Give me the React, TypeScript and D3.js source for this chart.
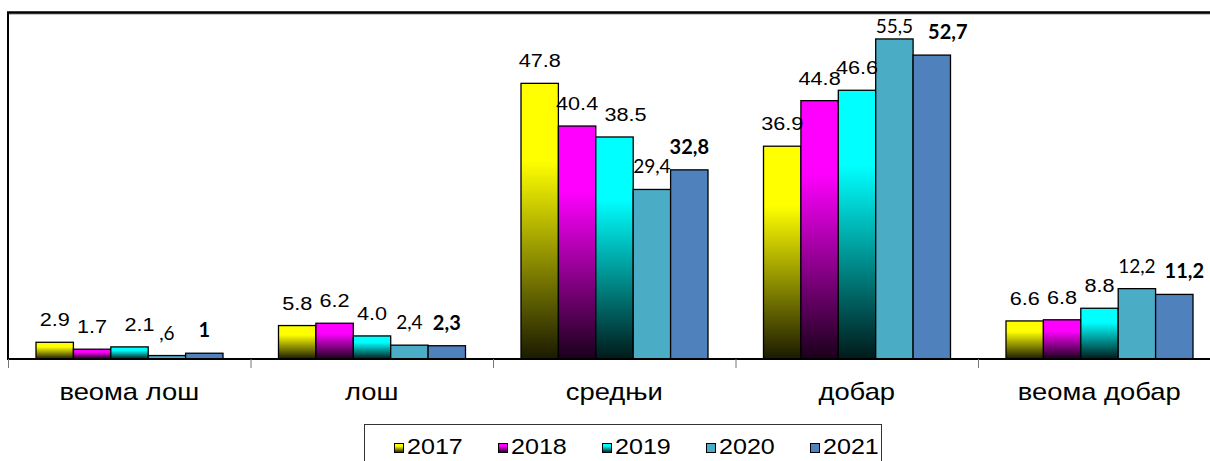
import React from "react";
import * as d3 from "d3";

const categories = ["веома лош", "лош", "средњи", "добар", "веома добар"];
const years = ["2017", "2018", "2019", "2020", "2021"];

const v2017 = [2.9, 5.8, 47.8, 36.9, 6.6];
const v2018 = [1.7, 6.2, 40.4, 44.8, 6.8];
const v2019 = [2.1, 4.0, 38.5, 46.6, 8.8];
const v2020 = [0.6, 2.4, 29.4, 55.5, 12.2];
const v2021 = [1, 2.3, 32.8, 52.7, 11.2];

// labels as printed in the original (mixed decimal separators)
const l2017 = ["2.9", "5.8", "47.8", "36.9", "6.6"];
const l2018 = ["1.7", "6.2", "40.4", "44.8", "6.8"];
const l2019 = ["2.1", "4.0", "38.5", "46.6", "8.8"];
const l2020 = [",6", "2,4", "29,4", "55,5", "12,2"];
const l2021 = ["1", "2,3", "32,8", "52,7", "11,2"];

const series = [
  { year: years[0], values: v2017, labels: l2017, top: "#ffff00", bottom: "#1a1a00", flat: false, font: "arial", bold: false },
  { year: years[1], values: v2018, labels: l2018, top: "#ff00ff", bottom: "#1a001a", flat: false, font: "arial", bold: false },
  { year: years[2], values: v2019, labels: l2019, top: "#00ffff", bottom: "#001a1a", flat: false, font: "arial", bold: false },
  { year: years[3], values: v2020, labels: l2020, top: "#4bacc6", bottom: "#4bacc6", flat: true, font: "calibri", bold: false },
  { year: years[4], values: v2021, labels: l2021, top: "#4f81bd", bottom: "#4f81bd", flat: true, font: "calibri", bold: true },
];

// a few labels were dragged sideways in the original, key = "series-category"
const labelNudge: Record<string, number> = { "2-0": 10, "2-2": 11, "4-3": 16, "4-4": 10 };

const W = 1210;
const H = 461;
const plot = { left: 8, right: 1220.5, top: 13, bottom: 359 };
const SX = 1.14; // original text is slightly stretched horizontally

export default function App() {
  const x0 = d3
    .scaleBand<string>()
    .domain(categories)
    .range([plot.left, plot.right]);

  const x1 = d3
    .scaleBand<string>()
    .domain(years)
    .range([28, x0.bandwidth() - 27.5]);

  const y = d3.scaleLinear().domain([0, 60]).range([plot.bottom, plot.top]);

  const legendX = 364;
  const legendY = 424;
  const legendStep = 104;

  return (
    <svg
      width={W}
      height={H}
      style={{ position: "absolute", left: 0, top: 0, background: "#fff" }}
    >
      <defs>
        {series.map((s, i) => (
          <linearGradient key={i} id={`g${i}`} x1="0" y1="0" x2="0" y2="1">
            <stop offset="0" stopColor={s.top} />
            <stop offset="0.28" stopColor={s.top} />
            <stop offset="1" stopColor={s.bottom} />
          </linearGradient>
        ))}
      </defs>

      {/* frame */}
      <line x1={plot.left} x2={W} y1={plot.top + 1} y2={plot.top + 1} stroke="#888" strokeWidth={1} />
      <line x1={plot.left - 1} x2={W} y1={plot.top - 0.5} y2={plot.top - 0.5} stroke="#000" strokeWidth={2.5} />
      <line x1={plot.left} x2={plot.left} y1={plot.top - 1} y2={plot.bottom} stroke="#000" strokeWidth={2} />

      {/* bars */}
      {series.map((s, si) =>
        categories.map((c, ci) => {
          const bx = (x0(c) as number) + (x1(s.year) as number);
          const by = y(s.values[ci]);
          return (
            <rect
              key={`${si}-${ci}`}
              x={bx}
              y={by}
              width={x1.bandwidth()}
              height={plot.bottom - by}
              fill={s.flat ? s.top : `url(#g${si})`}
              stroke="#000"
              strokeWidth={1.3}
            />
          );
        })
      )}

      {/* x axis */}
      <line x1={plot.left - 1} x2={W} y1={plot.bottom} y2={plot.bottom} stroke="#000" strokeWidth={2} />
      {categories.map((c) => (
        <line
          key={c}
          x1={(x0(c) as number) + 0.5}
          x2={(x0(c) as number) + 0.5}
          y1={plot.bottom}
          y2={plot.bottom + 9}
          stroke="#777"
          strokeWidth={1}
        />
      ))}
      {categories.map((c) => (
        <text
          key={c}
          transform={`translate(${(x0(c) as number) + x0.bandwidth() / 2},${400}) scale(${SX},1)`}
          textAnchor="middle"
          fontFamily="Liberation Sans, Arial, sans-serif"
          fontSize={24}
          fill="#000"
        >
          {c}
        </text>
      ))}

      {/* data labels */}
      {series.map((s, si) =>
        categories.map((c, ci) => {
          const cx =
            (x0(c) as number) + (x1(s.year) as number) + x1.bandwidth() / 2 +
            (labelNudge[`${si}-${ci}`] || 0);
          const by = y(s.values[ci]);
          const baseline = Math.max(by - 16, plot.top + 20);
          const isCal = s.font === "calibri";
          return (
            <text
              key={`l${si}-${ci}`}
              transform={`translate(${cx},${baseline}) scale(${isCal ? 1 : SX},1)`}
              textAnchor="middle"
              fontFamily={isCal ? "Lato, sans-serif" : "Liberation Sans, Arial, sans-serif"}
              fontWeight={s.bold ? 700 : 400}
              fontSize={isCal ? (s.bold ? 20 : 19) : 19}
              fill="#000"
            >
              {s.labels[ci]}
            </text>
          );
        })
      )}

      {/* legend */}
      <rect x={legendX + 0.5} y={legendY + 0.5} width={517} height={60} fill="#fff" stroke="#333" strokeWidth={1} />
      {series.map((s, i) => {
        const lx = legendX + 30 + i * legendStep;
        return (
          <g key={s.year}>
            <rect
              x={lx + 0.5}
              y={443.5}
              width={9}
              height={9}
              fill={s.flat ? s.top : `url(#g${i})`}
              stroke="#000"
              strokeWidth={1}
            />
            <text
              transform={`translate(${lx + 13},${454}) scale(${SX},1)`}
              fontFamily="Liberation Sans, Arial, sans-serif"
              fontSize={22}
              fill="#000"
            >
              {s.year}
            </text>
          </g>
        );
      })}
    </svg>
  );
}
